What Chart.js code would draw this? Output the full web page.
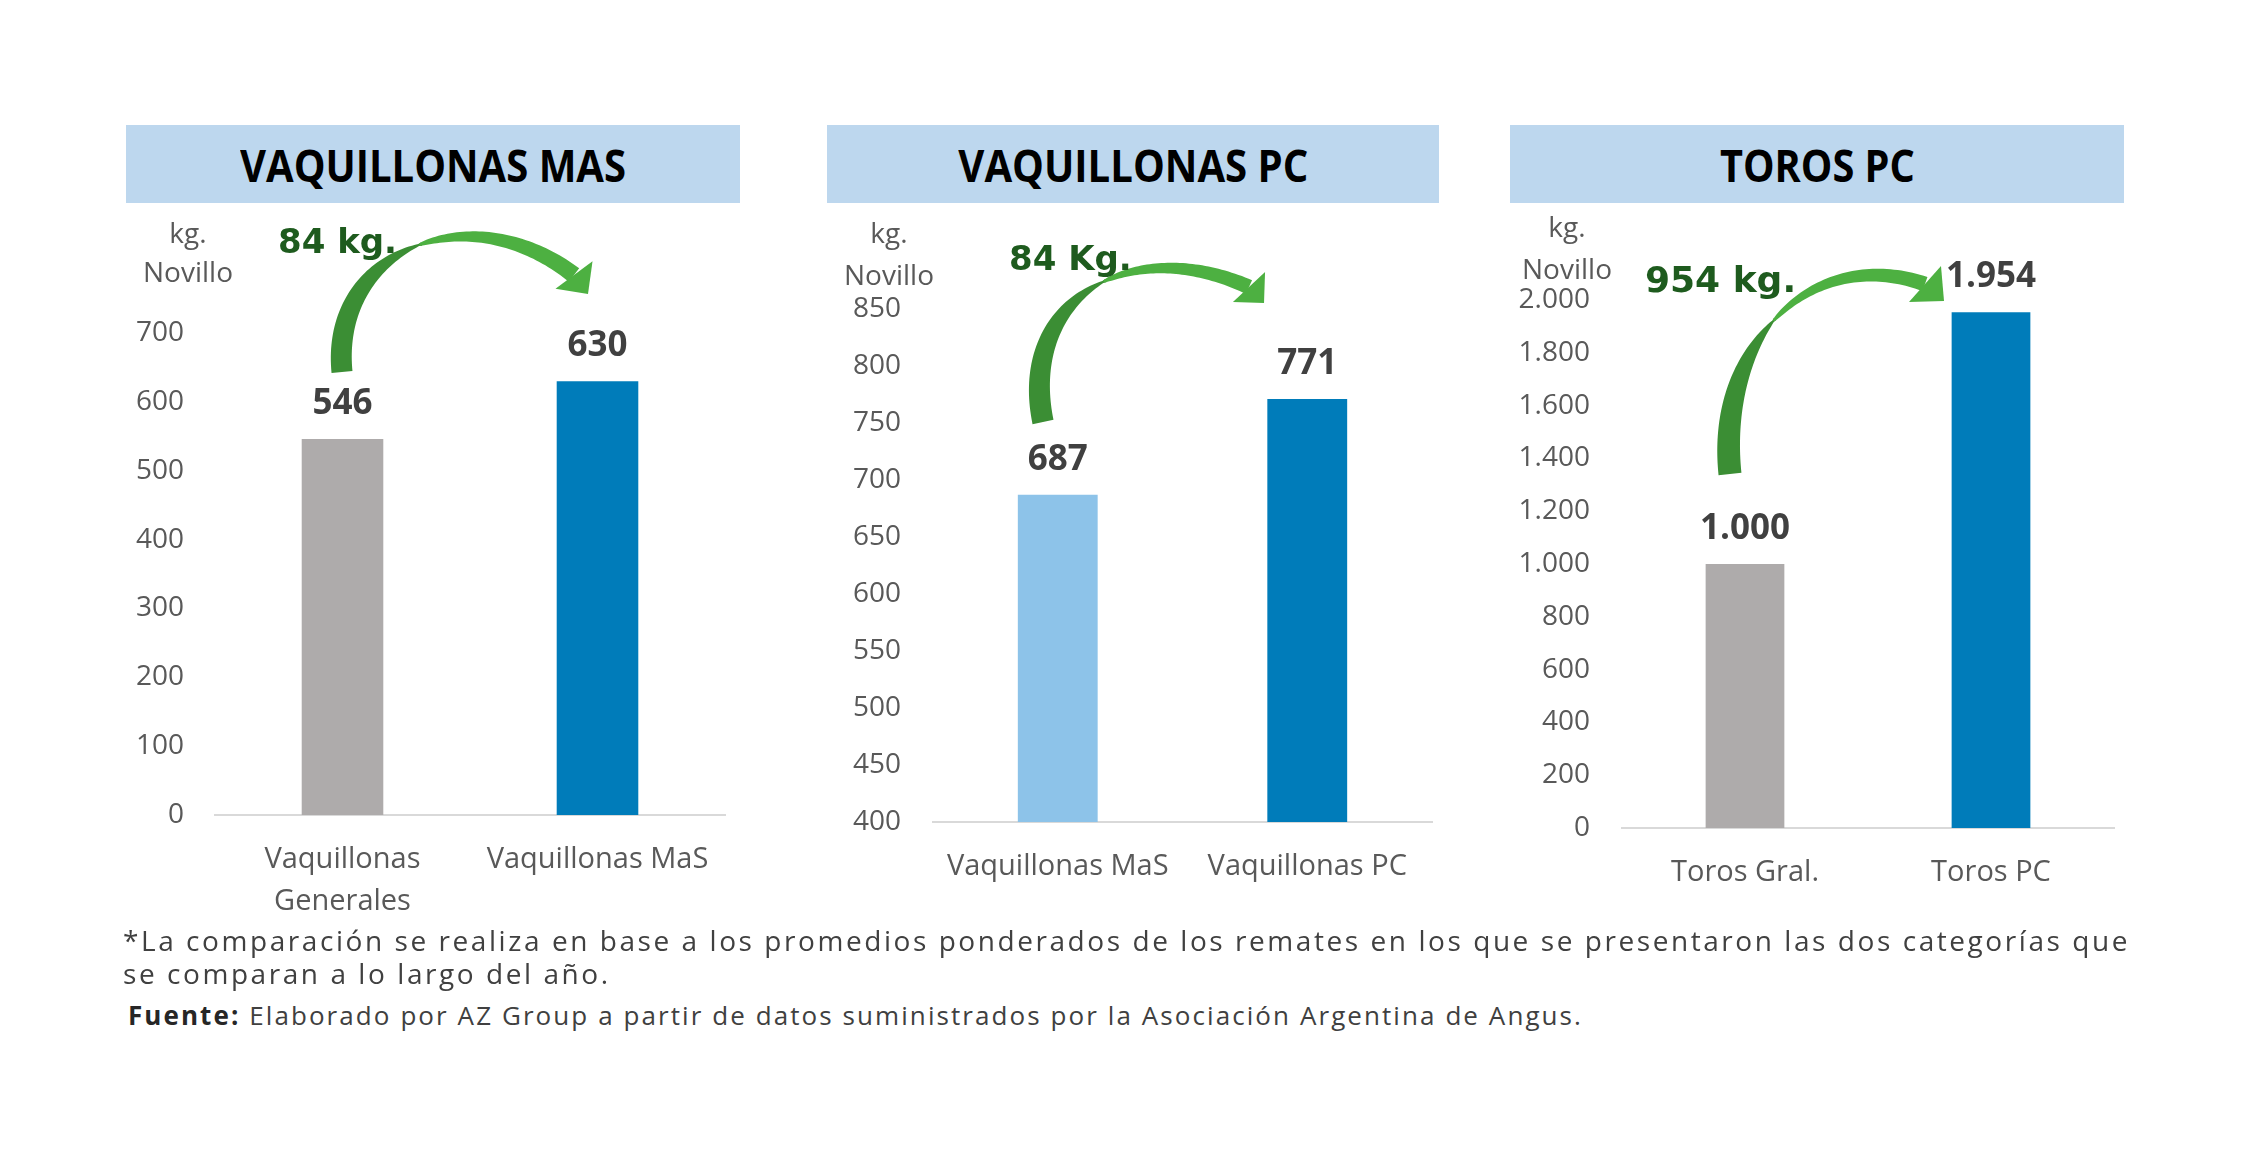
<!DOCTYPE html>
<html>
<head>
<meta charset="utf-8">
<script src="https://cdn.jsdelivr.net/npm/chart.js@4.4.1/dist/chart.umd.min.js"></script>
<style>
  body { margin:0; background:#fff; width:2250px; height:1155px; position:relative; overflow:hidden; font-family:"Open Sans", sans-serif; }
  .title { position:absolute; top:125px; height:78px; background:#BDD7EE; display:flex; align-items:center; justify-content:center; }
  .title span { display:inline-block; font:700 45px "Open Sans", sans-serif; color:#000; white-space:nowrap; }
  .wrap { position:absolute; }
  .note { position:absolute; white-space:nowrap; color:#404040; font-family:"Open Sans", sans-serif; }
</style>
</head>
<body>

<div class="title" style="left:126px;width:614px"><span id="t1"></span></div>
<div class="title" style="left:827px;width:612px"><span id="t2"></span></div>
<div class="title" style="left:1510px;width:614px"><span id="t3"></span></div>

<div class="wrap" style="left:110px;top:205px"><canvas id="c1" width="650" height="720"></canvas></div>
<div class="wrap" style="left:820px;top:205px"><canvas id="c2" width="650" height="720"></canvas></div>
<div class="wrap" style="left:1500px;top:205px"><canvas id="c3" width="650" height="720"></canvas></div>

<div class="note" id="n1" style="left:123px;top:926px;font-size:28px;line-height:28px"></div>
<div class="note" id="n2" style="left:123px;top:959px;font-size:28px;line-height:28px"></div>
<div class="note" id="n3" style="left:128px;top:1002px;font-size:26px;line-height:26px"></div>

<script>
// ---- data ----
var titles = ['VAQUILLONAS MAS', 'VAQUILLONAS PC', 'TOROS PC'];

var cat1 = [['Vaquillonas', 'Generales'], 'Vaquillonas MaS'];
var val1 = [546, 630];
var yTicks1 = [0, 700, 100];      // min, max, step

var cat2 = ['Vaquillonas MaS', 'Vaquillonas PC'];
var val2 = [687, 771];
var yTicks2 = [400, 850, 50];

var cat3 = ['Toros Gral.', 'Toros PC'];
var val3 = [1000, 1954];
var yTicks3 = [0, 2000, 200];

var diffLabels = ['84 kg.', '84 Kg.', '954 kg.'];
var unitLabel = ['kg.', 'Novillo'];

var note1 = '*La comparación se realiza en base a los promedios ponderados de los remates en los que se presentaron las dos categorías que';
var note2 = 'se comparan a lo largo del año.';
var noteSrcBold = 'Fuente:';
var noteSrc = ' Elaborado por AZ Group a partir de datos suministrados por la Asociación Argentina de Angus.';

var GRAY = '#AEABAB', BLUE = '#007CBA', LIGHT = '#8DC3E9';

function fmt(v) {
  return String(v).replace(/\B(?=(\d{3})+(?!\d))/g, '.');
}

// layout of each panel, page coordinates
var panels = [
  { id:'c1', left:110, top:205, w:650, h:720, area:{l:215, r:725, t:333, b:815}, tickRight:184,
    cats:cat1, vals:val1, y:yTicks1, colors:[GRAY, BLUE],
    unit:{x:188, y1:243, y2:282}, diff:{x:278, y:253, size:34, text:diffLabels[0]},
    arrow:{p:[[342,372],[330,250],[468,193],[574,275]], tip:[588,294], w0:10.5, w1:8.5, tm:0.52, hw:23} },
  { id:'c2', left:820, top:205, w:650, h:720, area:{l:933, r:1432, t:309, b:822}, tickRight:901,
    cats:cat2, vals:val2, y:yTicks2, colors:[LIGHT, BLUE],
    unit:{x:889, y1:243, y2:285}, diff:{x:1009, y:270, size:34, text:diffLabels[1]},
    arrow:{p:[[1043,422],[1018,300],[1128,233],[1249,287]], tip:[1264,303], w0:10.7, w1:7.5, tm:0.55, hw:22} },
  { id:'c3', left:1500, top:205, w:650, h:720, area:{l:1622, r:2114, t:300, b:828}, tickRight:1590,
    cats:cat3, vals:val3, y:yTicks3, colors:[GRAY, BLUE],
    unit:{x:1567, y1:237, y2:279}, diff:{x:1645, y:292, size:36, text:diffLabels[2]},
    arrow:{p:[[1730,474],[1716,340],[1812,245],[1925,284]], tip:[1944,301], w0:11.5, w1:7.5, tm:0.47, hw:24} }
];

function bez(p, t) {
  var u = 1 - t;
  var a = u*u*u, b = 3*u*u*t, c = 3*u*t*t, d = t*t*t;
  return [a*p[0][0]+b*p[1][0]+c*p[2][0]+d*p[3][0], a*p[0][1]+b*p[1][1]+c*p[2][1]+d*p[3][1]];
}
function bezD(p, t) {
  var u = 1 - t;
  var a = 3*u*u, b = 6*u*t, c = 3*t*t;
  return [a*(p[1][0]-p[0][0])+b*(p[2][0]-p[1][0])+c*(p[3][0]-p[2][0]),
          a*(p[1][1]-p[0][1])+b*(p[2][1]-p[1][1])+c*(p[3][1]-p[2][1])];
}

function band(ctx, p, t0, t1, wf, color) {
  var N = 50, left = [], right = [];
  for (var i = 0; i <= N; i++) {
    var t = t0 + (t1 - t0) * i / N;
    var q = bez(p, t), d = bezD(p, t);
    var L = Math.hypot(d[0], d[1]), nx = -d[1]/L, ny = d[0]/L, w = wf(t);
    left.push([q[0]+nx*w, q[1]+ny*w]);
    right.push([q[0]-nx*w, q[1]-ny*w]);
  }
  ctx.beginPath();
  ctx.moveTo(left[0][0], left[0][1]);
  left.forEach(function(v){ ctx.lineTo(v[0], v[1]); });
  for (var j = right.length - 1; j >= 0; j--) ctx.lineTo(right[j][0], right[j][1]);
  ctx.closePath();
  ctx.fillStyle = color;
  ctx.fill();
}

function drawArrow(ctx, a, ox, oy) {
  var p = a.p.map(function(v){ return [v[0]-ox, v[1]-oy]; });
  var tip = [a.tip[0]-ox, a.tip[1]-oy];
  var wmin = 1.0;
  // width stays wide near both ends and pinches where the band twists
  var wf = function(t) {
    if (t < a.tm) { var s = t / a.tm; return wmin + (a.w0 - wmin) * (1 - Math.pow(s, 2.2)); }
    var r = (t - a.tm) / (1 - a.tm);
    return wmin + (a.w1 - wmin) * Math.pow(r, 0.55);
  };
  band(ctx, p, 0, a.tm + 0.008, wf, '#3B8E34');
  band(ctx, p, a.tm, 1, wf, '#4DB041');
  // head
  var e = p[3], dx = tip[0]-e[0], dy = tip[1]-e[1], L = Math.hypot(dx, dy);
  var nx = -dy/L*a.hw, ny = dx/L*a.hw;
  ctx.beginPath();
  ctx.moveTo(e[0]+nx, e[1]+ny);
  ctx.lineTo(tip[0], tip[1]);
  ctx.lineTo(e[0]-nx, e[1]-ny);
  ctx.closePath();
  ctx.fillStyle = '#4DB041';
  ctx.fill();
}

function annot(pn) {
  return {
    id: 'annot',
    afterDatasetsDraw: function(chart) {
      var ctx = chart.ctx;
      ctx.save();
      // value labels above bars
      ctx.font = '700 35px "Open Sans"';
      ctx.fillStyle = '#404040';
      ctx.textAlign = 'center';
      ctx.textBaseline = 'alphabetic';
      chart.getDatasetMeta(0).data.forEach(function(bar, i) {
        ctx.fillText(fmt(pn.vals[i]), bar.x, bar.y - 25);
      });
      // unit label above the y axis
      ctx.font = '28px "Open Sans"';
      ctx.fillStyle = '#595959';
      ctx.fillText(unitLabel[0], pn.unit.x - pn.left, pn.unit.y1 - pn.top);
      ctx.fillText(unitLabel[1], pn.unit.x - pn.left, pn.unit.y2 - pn.top);
      // difference arrow and label
      drawArrow(ctx, pn.arrow, pn.left, pn.top);
      ctx.font = '700 ' + pn.diff.size + 'px "DejaVu Sans"';
      ctx.fillStyle = '#1E5B1E';
      ctx.textAlign = 'left';
      ctx.fillText(pn.diff.text, pn.diff.x - pn.left, pn.diff.y - pn.top);
      ctx.restore();
    }
  };
}

function makeChart(pn) {
  return new Chart(document.getElementById(pn.id), {
    type: 'bar',
    data: {
      labels: pn.cats,
      datasets: [{
        data: pn.vals,
        backgroundColor: pn.colors,
        categoryPercentage: 0.4,
        barPercentage: 0.8
      }]
    },
    options: {
      responsive: false,
      animation: false,
      layout: { padding: { top: pn.area.t - pn.top, right: pn.left + pn.w - pn.area.r, left: 0, bottom: 0 } },
      plugins: { legend: { display: false }, tooltip: { enabled: false } },
      scales: {
        x: {
          grid: { display: false, drawTicks: false },
          border: { display: true, color: '#D9D9D9', width: 2 },
          ticks: { font: { family: 'Open Sans', size: 29, lineHeight: 1.45 }, color: '#595959', padding: 24, maxRotation: 0, autoSkip: false },
          afterFit: function(s) { s.height = pn.top + pn.h - pn.area.b; }
        },
        y: {
          min: pn.y[0], max: pn.y[1],
          grid: { display: false, drawTicks: false },
          border: { display: false },
          ticks: { stepSize: pn.y[2], autoSkip: false, font: { family: 'Open Sans', size: 28 }, color: '#595959',
                   padding: pn.area.l - pn.tickRight, callback: function(v) { return fmt(v); } },
          afterFit: function(s) { s.width = pn.area.l - pn.left; }
        }
      }
    },
    plugins: [annot(pn)]
  });
}

function fit(el, target) {
  el.style.letterSpacing = '0px';
  var w = el.getBoundingClientRect().width;
  var ls = (target - w) / el.textContent.length;
  el.style.letterSpacing = ls + 'px';
  return ls;
}
function squeeze(el, target) {
  var w = el.getBoundingClientRect().width;
  el.style.transform = 'scaleX(' + (target / w) + ')';
}

document.getElementById('t1').textContent = titles[0];
document.getElementById('t2').textContent = titles[1];
document.getElementById('t3').textContent = titles[2];
document.getElementById('n1').textContent = note1;
document.getElementById('n2').textContent = note2;
document.getElementById('n3').innerHTML = '<b style="color:#262626">' + noteSrcBold + '</b>' + noteSrc;

squeeze(document.getElementById('t1'), 386);
squeeze(document.getElementById('t2'), 350);
squeeze(document.getElementById('t3'), 195);
var ls = fit(document.getElementById('n1'), 2007);
document.getElementById('n2').style.letterSpacing = ls + 'px';
fit(document.getElementById('n3'), 1455);

panels.forEach(makeChart);
</script>
</body>
</html>
